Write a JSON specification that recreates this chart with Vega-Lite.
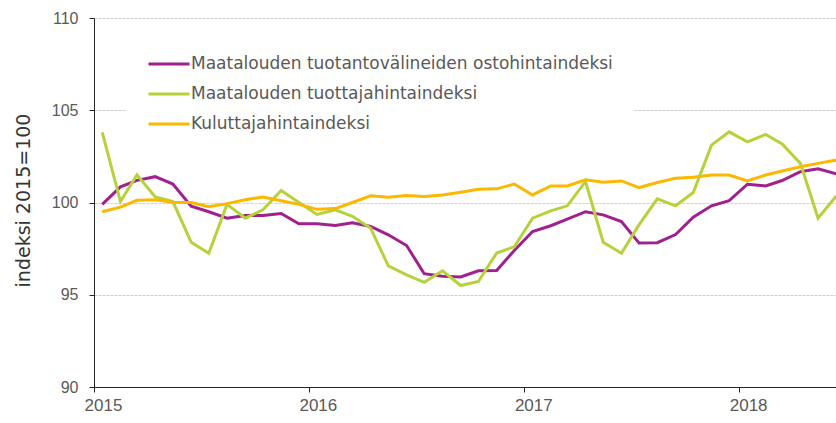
{
  "$schema": "https://vega.github.io/schema/vega-lite/v6.json",
  "width": 742,
  "height": 369,
  "autosize": {"type": "none"},
  "padding": {"left": 94, "top": 18, "right": 0, "bottom": 36},
  "background": "white",
  "config": {"view": {"stroke": null}},
  "data": {
    "values": [
      {"kk": "2015-01-15T00:00", "osto": 99.9, "tuottaja": 103.8, "kuluttaja": 99.5},
      {"kk": "2015-02-15T00:00", "osto": 100.85, "tuottaja": 100.05, "kuluttaja": 99.75},
      {"kk": "2015-03-15T00:00", "osto": 101.2, "tuottaja": 101.5, "kuluttaja": 100.12},
      {"kk": "2015-04-15T00:00", "osto": 101.4, "tuottaja": 100.3, "kuluttaja": 100.15},
      {"kk": "2015-05-15T00:00", "osto": 101.0, "tuottaja": 100.05, "kuluttaja": 100.02},
      {"kk": "2015-06-15T00:00", "osto": 99.8, "tuottaja": 97.85, "kuluttaja": 100.0},
      {"kk": "2015-07-15T00:00", "osto": 99.5, "tuottaja": 97.25, "kuluttaja": 99.77},
      {"kk": "2015-08-15T00:00", "osto": 99.15, "tuottaja": 99.9, "kuluttaja": 99.94},
      {"kk": "2015-09-15T00:00", "osto": 99.3, "tuottaja": 99.15, "kuluttaja": 100.15},
      {"kk": "2015-10-15T00:00", "osto": 99.3, "tuottaja": 99.6, "kuluttaja": 100.3},
      {"kk": "2015-11-15T00:00", "osto": 99.4, "tuottaja": 100.65, "kuluttaja": 100.1},
      {"kk": "2015-12-15T00:00", "osto": 98.85, "tuottaja": 100.0, "kuluttaja": 99.9},
      {"kk": "2016-01-15T00:00", "osto": 98.85, "tuottaja": 99.35, "kuluttaja": 99.63},
      {"kk": "2016-02-15T00:00", "osto": 98.75, "tuottaja": 99.6, "kuluttaja": 99.67},
      {"kk": "2016-03-15T00:00", "osto": 98.9, "tuottaja": 99.25, "kuluttaja": 100.0},
      {"kk": "2016-04-15T00:00", "osto": 98.7, "tuottaja": 98.6, "kuluttaja": 100.36},
      {"kk": "2016-05-15T00:00", "osto": 98.25, "tuottaja": 96.57, "kuluttaja": 100.29},
      {"kk": "2016-06-15T00:00", "osto": 97.67, "tuottaja": 96.08, "kuluttaja": 100.38},
      {"kk": "2016-07-15T00:00", "osto": 96.14, "tuottaja": 95.67, "kuluttaja": 100.32},
      {"kk": "2016-08-15T00:00", "osto": 96.0, "tuottaja": 96.3, "kuluttaja": 100.41},
      {"kk": "2016-09-15T00:00", "osto": 95.96, "tuottaja": 95.5, "kuluttaja": 100.56},
      {"kk": "2016-10-15T00:00", "osto": 96.3, "tuottaja": 95.72, "kuluttaja": 100.72},
      {"kk": "2016-11-15T00:00", "osto": 96.32, "tuottaja": 97.26, "kuluttaja": 100.74},
      {"kk": "2016-12-15T00:00", "osto": 97.4, "tuottaja": 97.6, "kuluttaja": 101.0},
      {"kk": "2017-01-15T00:00", "osto": 98.43, "tuottaja": 99.15, "kuluttaja": 100.41},
      {"kk": "2017-02-15T00:00", "osto": 98.74, "tuottaja": 99.55, "kuluttaja": 100.9},
      {"kk": "2017-03-15T00:00", "osto": 99.1, "tuottaja": 99.82, "kuluttaja": 100.9},
      {"kk": "2017-04-15T00:00", "osto": 99.5, "tuottaja": 101.14, "kuluttaja": 101.23},
      {"kk": "2017-05-15T00:00", "osto": 99.33, "tuottaja": 97.85, "kuluttaja": 101.1},
      {"kk": "2017-06-15T00:00", "osto": 98.97, "tuottaja": 97.25, "kuluttaja": 101.17},
      {"kk": "2017-07-15T00:00", "osto": 97.8, "tuottaja": 98.8, "kuluttaja": 100.81},
      {"kk": "2017-08-15T00:00", "osto": 97.82, "tuottaja": 100.2, "kuluttaja": 101.08},
      {"kk": "2017-09-15T00:00", "osto": 98.26, "tuottaja": 99.82, "kuluttaja": 101.31},
      {"kk": "2017-10-15T00:00", "osto": 99.2, "tuottaja": 100.54, "kuluttaja": 101.37},
      {"kk": "2017-11-15T00:00", "osto": 99.82, "tuottaja": 103.11, "kuluttaja": 101.49},
      {"kk": "2017-12-15T00:00", "osto": 100.1, "tuottaja": 103.83, "kuluttaja": 101.49},
      {"kk": "2018-01-15T00:00", "osto": 100.99, "tuottaja": 103.29, "kuluttaja": 101.17},
      {"kk": "2018-02-15T00:00", "osto": 100.9, "tuottaja": 103.69, "kuluttaja": 101.49},
      {"kk": "2018-03-15T00:00", "osto": 101.19, "tuottaja": 103.17, "kuluttaja": 101.71},
      {"kk": "2018-04-15T00:00", "osto": 101.67, "tuottaja": 102.12, "kuluttaja": 101.94},
      {"kk": "2018-05-15T00:00", "osto": 101.83, "tuottaja": 99.15, "kuluttaja": 102.12},
      {"kk": "2018-06-15T00:00", "osto": 101.55, "tuottaja": 100.35, "kuluttaja": 102.3}
    ]
  },
  "transform": [
    {"fold": ["osto", "tuottaja", "kuluttaja"], "as": ["sarja", "arvo"]}
  ],
  "mark": {"type": "line", "strokeWidth": 3, "clip": true},
  "encoding": {
    "x": {
      "field": "kk",
      "type": "temporal",
      "scale": {"domain": [{"year": 2015, "month": 1, "date": 1}, {"year": 2018, "month": 6, "date": 14, "hours": 12}]},
      "axis": {
        "title": null,
        "values": [{"year": 2015, "month": 1, "date": 1}, {"year": 2016, "month": 1, "date": 1}, {"year": 2017, "month": 1, "date": 1}, {"year": 2018, "month": 1, "date": 1}],
        "format": "%Y",
        "labelOffset": 9,
        "labelFlush": false,
        "labelFont": "Liberation Sans",
        "labelFontSize": 17,
        "labelColor": "#595959",
        "labelPadding": 5,
        "domainColor": "#262626",
        "tickColor": "#262626",
        "tickSize": 5,
        "grid": false
      }
    },
    "y": {
      "field": "arvo",
      "type": "quantitative",
      "scale": {"domain": [90, 110], "nice": false, "zero": false},
      "axis": {
        "values": [90, 95, 100, 105, 110],
        "title": "indeksi 2015=100",
        "titleFont": "DejaVu Sans",
        "titleFontSize": 19,
        "titleFontWeight": "normal",
        "titleColor": "#333333",
        "titleAngle": -90,
        "titleX": -65,
        "titleY": 182,
        "titleAlign": "center",
        "titleBaseline": "alphabetic",
        "labelFont": "Liberation Sans",
        "labelFontSize": 16,
        "labelColor": "#595959",
        "labelPadding": 11,
        "labelFlush": false,
        "domainColor": "#262626",
        "tickColor": "#262626",
        "tickSize": 5,
        "grid": true,
        "gridColor": "#d0d0d0",
        "gridDash": [3, 1]
      }
    },
    "color": {
      "field": "sarja",
      "type": "nominal",
      "sort": ["osto", "tuottaja", "kuluttaja"],
      "scale": {"domain": ["osto", "tuottaja", "kuluttaja"], "range": ["#A0208F", "#B6D23A", "#FBB800"]},
      "legend": {
        "title": null,
        "orient": "none",
        "legendX": 33,
        "legendY": 4,
        "padding": 20,
        "fillColor": "white",
        "symbolType": "stroke",
        "symbolSize": 1681,
        "symbolStrokeWidth": 3,
        "labelFont": "DejaVu Sans",
        "labelFontSize": 17,
        "labelColor": "#595959",
        "labelOffset": 0,
        "labelLimit": 0,
        "rowPadding": -11,
        "labelExpr": "datum.label == 'osto' ? 'Maatalouden tuotantovälineiden ostohintaindeksi' : datum.label == 'tuottaja' ? 'Maatalouden tuottajahintaindeksi' : 'Kuluttajahintaindeksi'"
      }
    }
  }
}
